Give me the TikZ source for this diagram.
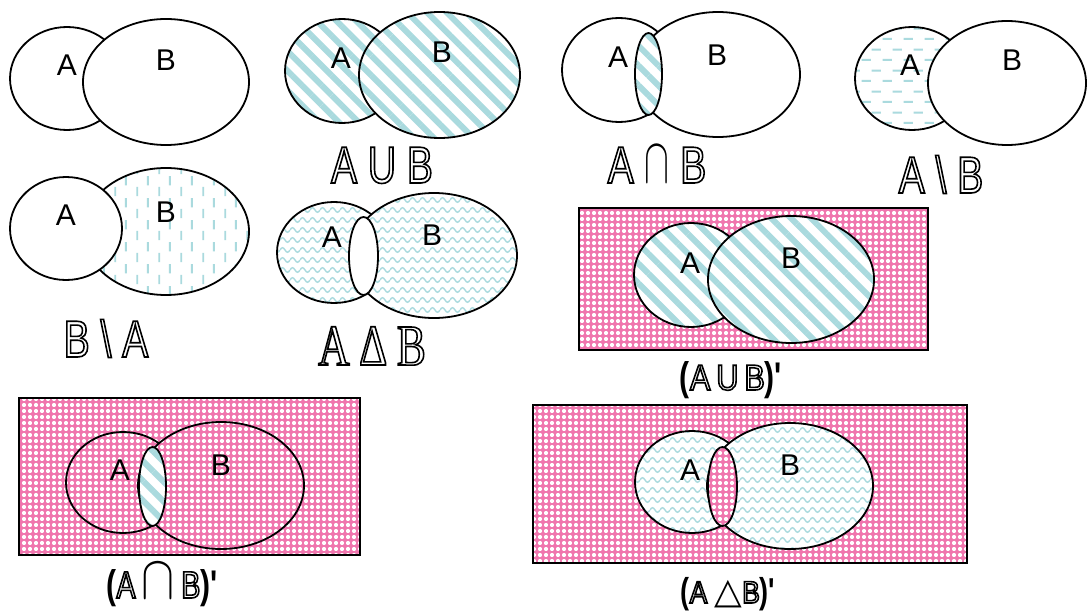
\documentclass[tikz,border=0pt]{standalone}
\usepackage{fontspec}
\usepackage{graphicx}
\setmainfont{Liberation Sans}
\newfontfamily\capfont[FakeStretch=0.75]{Liberation Sans}
\newfontfamily\botfont[FakeStretch=0.85]{Liberation Sans}
\newfontfamily\capserif[FakeStretch=0.75]{Liberation Serif}
\newfontfamily\symfont{DejaVu Sans}
\usetikzlibrary{patterns,patterns.meta}

\definecolor{setteal}{RGB}{170,218,222}
\definecolor{setpink}{RGB}{240,118,174}

% hollow letters
\newcommand\hollow[1]{\special{pdf:literal direct 1 Tr 0.8 w}#1\special{pdf:literal direct 0 Tr}}
\newcommand\paren[1]{{\capfont\bfseries\fontsize{20}{21}\selectfont #1}}
\newcommand\capsign{{\Huge$\cap$}}

% fill patterns
\pgfdeclarepatternformonly{hdash}{\pgfqpoint{0pt}{0pt}}{\pgfqpoint{10.5pt}{10.6pt}}{\pgfqpoint{10.5pt}{10.6pt}}{%
  \pgfsetlinewidth{1pt}%
  \pgfpathmoveto{\pgfqpoint{0.3pt}{2.65pt}}\pgfpathlineto{\pgfqpoint{5.2pt}{2.65pt}}%
  \pgfpathmoveto{\pgfqpoint{5.5pt}{7.95pt}}\pgfpathlineto{\pgfqpoint{10.4pt}{7.95pt}}%
  \pgfusepath{stroke}}
\pgfdeclarepatternformonly{vdash}{\pgfqpoint{0pt}{0pt}}{\pgfqpoint{11pt}{11pt}}{\pgfqpoint{11pt}{11pt}}{%
  \pgfsetlinewidth{1pt}%
  \pgfpathmoveto{\pgfqpoint{2.75pt}{0.5pt}}\pgfpathlineto{\pgfqpoint{2.75pt}{5.3pt}}%
  \pgfpathmoveto{\pgfqpoint{8.25pt}{6pt}}\pgfpathlineto{\pgfqpoint{8.25pt}{10.8pt}}%
  \pgfusepath{stroke}}
\pgfdeclarepatternformonly{wave}{\pgfqpoint{0pt}{-0.5pt}}{\pgfqpoint{5pt}{5.5pt}}{\pgfqpoint{5pt}{5pt}}{%
  \pgfsetlinewidth{0.7pt}%
  \pgfpathmoveto{\pgfqpoint{0pt}{2.5pt}}%
  \pgfpathcurveto{\pgfqpoint{0.9pt}{4pt}}{\pgfqpoint{1.6pt}{4pt}}{\pgfqpoint{2.5pt}{2.5pt}}%
  \pgfpathcurveto{\pgfqpoint{3.4pt}{1pt}}{\pgfqpoint{4.1pt}{1pt}}{\pgfqpoint{5pt}{2.5pt}}%
  \pgfusepath{stroke}}
\pgfdeclarepatternformonly{pinkdots}{\pgfqpoint{-1.5pt}{-1.5pt}}{\pgfqpoint{1.5pt}{1.5pt}}{\pgfqpoint{3pt}{3pt}}{%
  \pgfpathcircle{\pgfpointorigin}{1.05pt}\pgfusepath{fill}}

\tikzset{
  stripes/.style={preaction={fill=white},pattern={Lines[angle=-45,distance=7pt,line width=3pt]},pattern color=setteal},
  hdashes/.style={preaction={fill=white},pattern=hdash,pattern color=setteal},
  vdashes/.style={preaction={fill=white},pattern=vdash,pattern color=setteal},
  waves/.style={preaction={fill=white},pattern=wave,pattern color=setteal},
  pinkbg/.style={preaction={fill=setpink},pattern=pinkdots,pattern color=white},
  lbl/.style={inner sep=0pt,font=\fontsize{15}{17}\selectfont},
  topcap/.style={anchor=base,inner sep=0pt,font=\capfont\fontsize{26}{28}\selectfont},
  botcap/.style={anchor=base,inner sep=0pt,font=\botfont\fontsize{18}{20}\selectfont}
}

\begin{document}
\begin{tikzpicture}[x=0.5pt,y=-0.5pt,line width=0.9pt]

	\useasboundingbox (0,0) rectangle (1087,615);

	% A and B
	\draw[fill=white] (67,78.5) ellipse [x radius=57,y radius=51.5];
	\draw[fill=white] (166,82) ellipse [x radius=83,y radius=63];
	\node[lbl] (a1) at (67,65) {A};
	\node[lbl] (b1) at (166,60) {B};

	% union
	\draw[stripes] (342,71) ellipse [x radius=57,y radius=52];
	\draw[stripes] (439.5,75) ellipse [x radius=80.5,y radius=63];
	\node[lbl] (a2) at (341,58) {A};
	\node[lbl] (b2) at (442,52) {B};
	\node[topcap] (c2) at (382,183) {\hollow{A U B}};

	% intersection
	\draw[fill=white] (619,70) ellipse [x radius=57,y radius=52];
	\draw[fill=white] (718,74.5) ellipse [x radius=82,y radius=62.5];
	\draw[stripes] (648.5,74) ellipse [x radius=13.5,y radius=41];
	\node[lbl] (a3) at (618,57) {A};
	\node[lbl] (b3) at (717,55) {B};
	\node[topcap] (c3) at (657,183) {\hollow{A}\ \scalebox{0.75}[1.3]{\capsign}\ \hollow{B}};

	% A minus B
	\draw[hdashes] (912,78.5) ellipse [x radius=57,y radius=51.5];
	\draw[fill=white] (1007,83) ellipse [x radius=79,y radius=62];
	\node[lbl] (a4) at (910,65) {A};
	\node[lbl] (b4) at (1012,60) {B};
	\node[topcap] (c4) at (941,193) {\hollow{A \textbackslash{} B}};

	% B minus A
	\draw[vdashes] (166,231.5) ellipse [x radius=83,y radius=63.5];
	\draw[fill=white] (66,228.5) ellipse [x radius=56,y radius=51.5];
	\node[lbl] (a5) at (66,215) {A};
	\node[lbl] (b5) at (166,212) {B};
	\node[topcap] (c5) at (106,357) {\hollow{B \textbackslash{} A}};

	% symmetric difference
	\draw[waves] (334,252.5) ellipse [x radius=57,y radius=50.5];
	\draw[waves] (434,255.5) ellipse [x radius=83,y radius=62.5];
	\draw[fill=white] (363.5,256) ellipse [x radius=14.5,y radius=39];
	\node[lbl] (a6) at (332,237) {A};
	\node[lbl] (b6) at (432,235) {B};
	\node[topcap,font=\capserif\fontsize{29}{30}\selectfont] (c6) at (372,365) {\hollow{A\,Δ\,B}};

	% complement of union
	\draw[pinkbg] (579,208) rectangle (928,350);
	\draw[stripes] (691,275) ellipse [x radius=57,y radius=52];
	\draw[stripes] (791,279.5) ellipse [x radius=83,y radius=63.5];
	\node[lbl] (a7) at (690,263) {A};
	\node[lbl] (b7) at (791,258) {B};
	\node[botcap] (c7) at (731,390) {\paren{(}\hollow{A\,U\,B}\paren{)'}};

	% complement of intersection
	\draw[pinkbg] (19,398) rectangle (360,555);
	\draw[pinkbg] (123,482.5) ellipse [x radius=57,y radius=50.5];
	\draw[pinkbg] (221,485.5) ellipse [x radius=83,y radius=63.5];
	\draw[stripes] (152.5,486.5) ellipse [x radius=13.5,y radius=39.5];
	\node[lbl] (a8) at (120,470) {A};
	\node[lbl] (b8) at (221,465) {B};
	\node[botcap,font=\capfont\fontsize{19}{20}\selectfont] (c8) at (162,598) {\paren{(}\hollow{A}\,\scalebox{1}[1.25]{\capsign}\,\hollow{B}\paren{)'}};

	% complement of symmetric difference
	\draw[pinkbg] (533,405) rectangle (967,563);
	\draw[waves] (692,482) ellipse [x radius=57,y radius=51];
	\draw[waves] (790,486) ellipse [x radius=83,y radius=63];
	\draw[pinkbg] (722.5,486.5) ellipse [x radius=14.5,y radius=39.5];
	\node[lbl] (a9) at (690,470) {A};
	\node[lbl] (b9) at (790,465) {B};
	\node[botcap,font=\botfont\fontsize{15.5}{17}\selectfont] (c9) at (728,603) {{\capfont\bfseries\fontsize{18}{19}\selectfont (}\hollow{A} {\symfont\fontsize{18}{18}\selectfont △}\hollow{B}{\capfont\bfseries\fontsize{18}{19}\selectfont )'}};

\end{tikzpicture}
\end{document}
